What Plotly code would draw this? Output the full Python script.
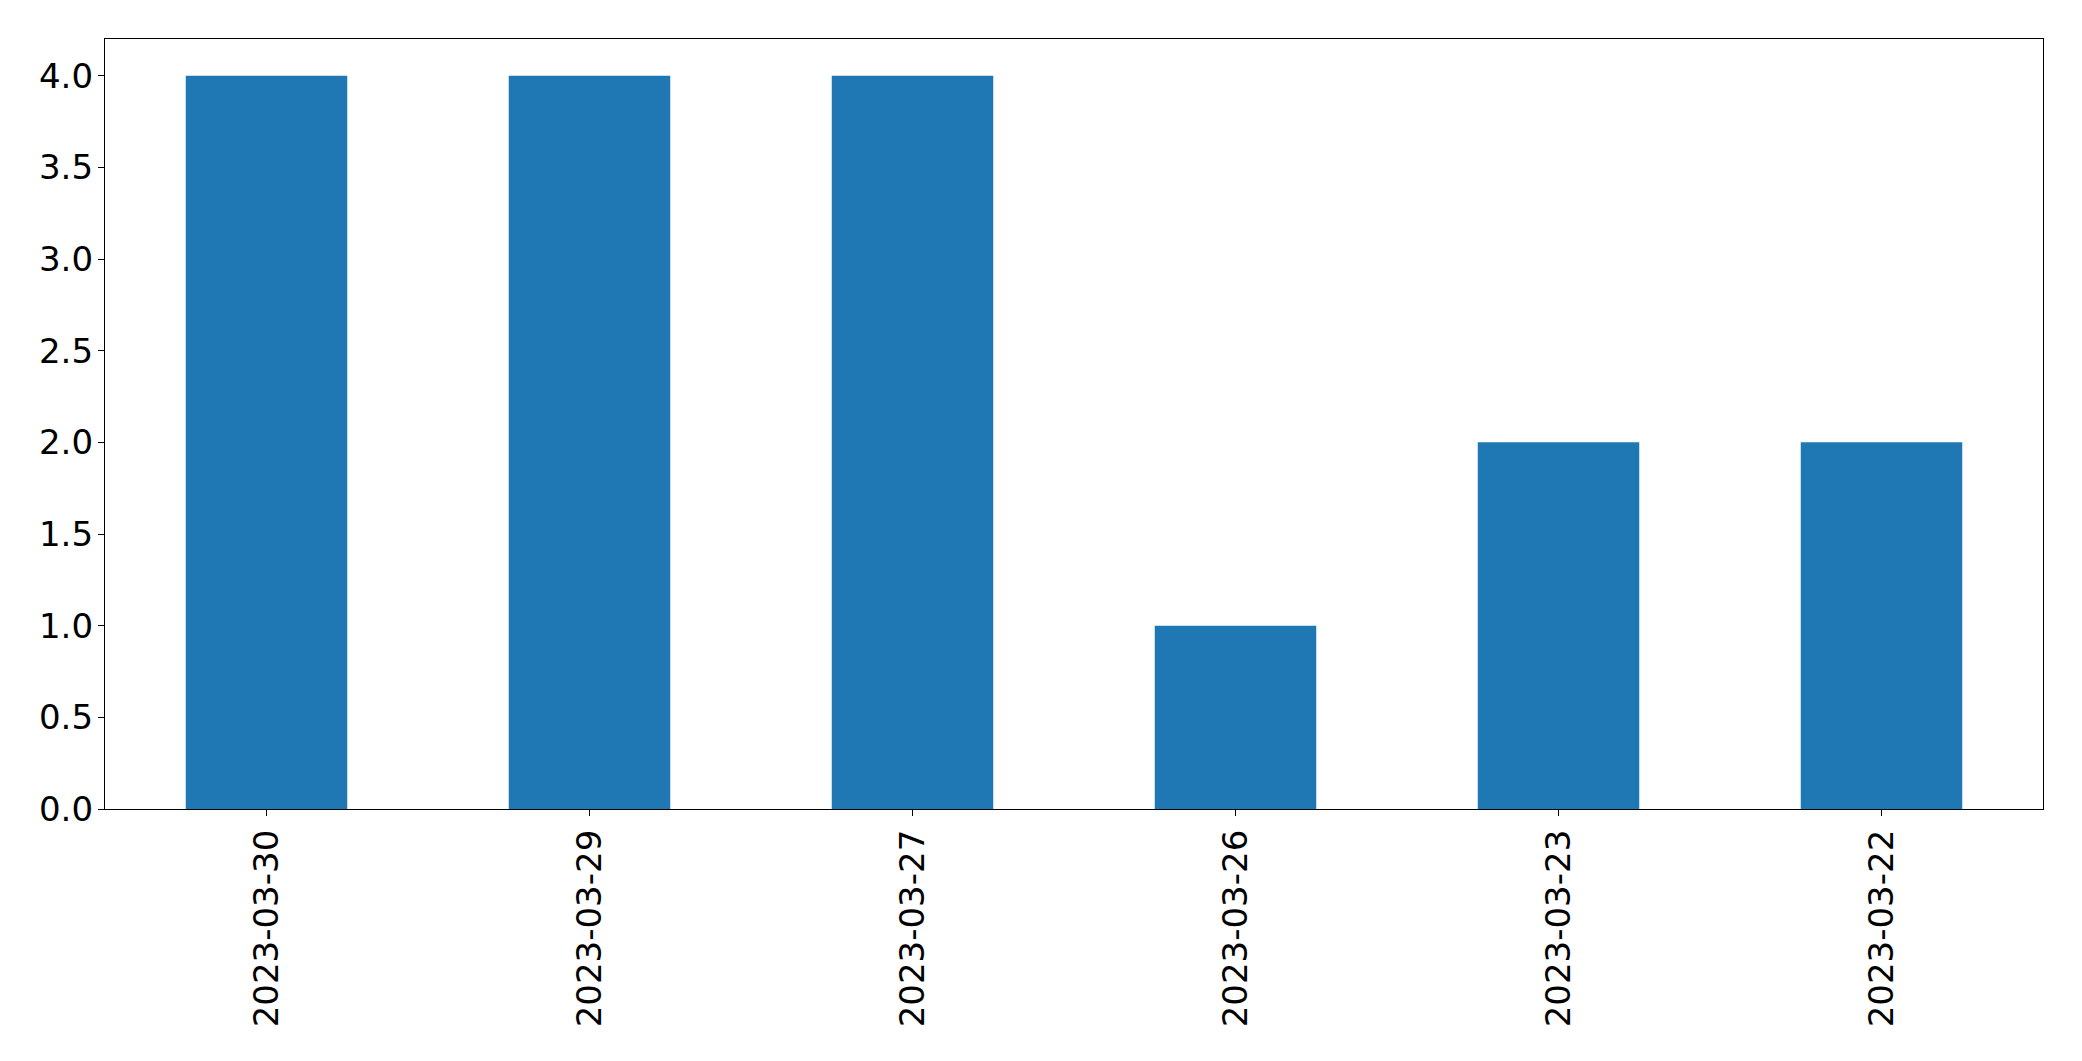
import plotly.graph_objects as go

dates = ["2023-03-30", "2023-03-29", "2023-03-27", "2023-03-26", "2023-03-23", "2023-03-22"]
counts = [4, 4, 4, 1, 2, 2]
y_ticks = [0.0, 0.5, 1.0, 1.5, 2.0, 2.5, 3.0, 3.5, 4.0]
y_tick_labels = ["0.0", "0.5", "1.0", "1.5", "2.0", "2.5", "3.0", "3.5", "4.0"]

fig = go.Figure(go.Bar(x=dates, y=counts, width=0.5, marker=dict(color="#1f77b4", line=dict(width=0))))

axis_common = dict(showline=True, linecolor="black", linewidth=1.3, mirror=True,
                   ticks="outside", ticklen=6, tickwidth=1.3, tickcolor="black",
                   showgrid=False, zeroline=False)

fig.update_layout(
    width=2082, height=1061,
    margin=dict(l=105, r=39, t=39, b=252, pad=0),
    paper_bgcolor="white", plot_bgcolor="white",
    font=dict(family="DejaVu Sans", size=34, color="black"),
    showlegend=False,
    xaxis=dict(type="category", range=[-0.5, 5.5], tickangle=-90, ticklabelstandoff=0, **axis_common),
    yaxis=dict(range=[0, 4.2], tickvals=y_ticks, ticktext=y_tick_labels, ticklabelstandoff=-2, **axis_common),
)

fig.write_html("out.html", config={"displayModeBar": False},
               post_script="document.body.style.margin='0';document.body.style.overflow='hidden';")
